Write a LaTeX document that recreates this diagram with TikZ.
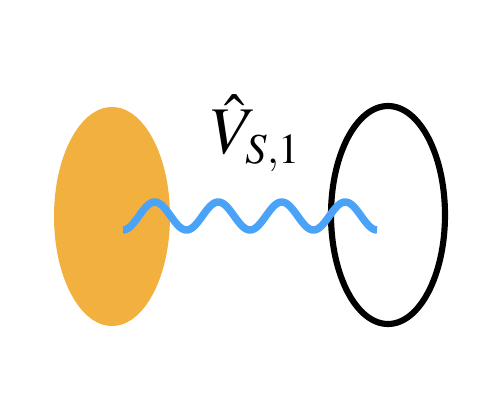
\documentclass[tikz,border=0pt]{standalone}
\usepackage{mathptmx}
\usetikzlibrary{shapes.geometric}
\DeclareMathSizes{50}{50}{32}{25}
\definecolor{orangefill}{HTML}{F2B13F}
\definecolor{wave}{HTML}{4BA3F7}
\begin{document}
\begin{tikzpicture}[x=0.75pt,y=-0.75pt,
  blob/.style={fill=orangefill,draw=none},
  ring/.style={draw=black,line width=4.6pt,fill=none},
  wavy/.style={draw=wave,line width=5.6pt}]
\useasboundingbox (0,0) rectangle (494,400);
\fill[white] (0,0) rectangle (494,400);
\node[blob,ellipse,minimum width=116*0.75pt,minimum height=219*0.75pt,inner sep=0] (L) at (112,216.5) {};
\draw[ring] (388,215) ellipse [x radius=57, y radius=109];
\coordinate (R) at (388,215);
\draw[wavy] plot[domain=123:377,samples=200,smooth] (\x,{216+14*cos(5.6693*(\x-123))});
\node[anchor=base west,inner sep=0] (lab) at (211,153) {\fontsize{50}{60}\selectfont$\hat{V}_{S,1}$};
\end{tikzpicture}
\end{document}
